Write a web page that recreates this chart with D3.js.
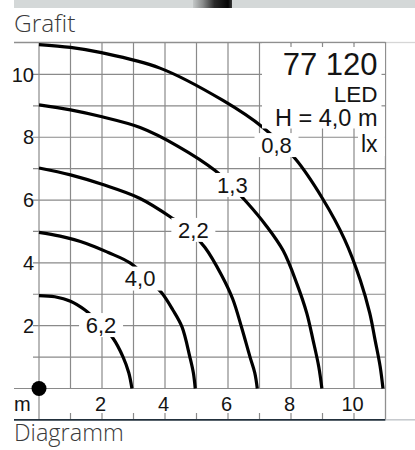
<!DOCTYPE html>
<html>
<head>
<meta charset="utf-8">
<script src="https://cdn.jsdelivr.net/npm/d3@7"></script>
<style>
  html, body { margin: 0; padding: 0; background: #fff; }
  svg { display: block; }
</style>
</head>
<body>
<svg id="chart" width="415" height="450"></svg>
<script>
// Isolux levels (lx) and their curves, in metres (x = distance, y = distance)
const levels = ["0,8", "1,3", "2,2", "4,0", "6,2"];

const curve08 = [[0, 10.95], [1, 10.86], [1.94, 10.7], [3.84, 10.2], [5.84, 9.17], [7.11, 8.31],
  [8.13, 7.32], [9.0, 6.05], [9.7, 4.75], [10.2, 3.45], [10.5, 2.4], [10.67, 1.54], [10.83, 0.7], [10.92, 0]];
const curve13 = [[0, 9.03], [1, 8.87], [2, 8.65], [3.21, 8.31], [4.4, 7.72], [5.59, 6.94], [6.1, 6.45],
  [6.63, 5.89], [7.2, 5.2], [7.75, 4.39], [8.2, 3.3], [8.5, 2.4], [8.7, 1.54], [8.88, 0.7], [8.98, 0]];
const curve22 = [[0, 7.02], [1, 6.8], [2, 6.5], [3.21, 6.05], [4.25, 5.41], [4.8, 5.0], [5.27, 4.49],
  [5.8, 3.6], [6.15, 2.85], [6.43, 1.95], [6.7, 1.0], [6.85, 0.5], [6.93, 0]];
const curve40 = [[0, 4.97], [0.67, 4.85], [1.5, 4.62], [2.2, 4.33], [2.89, 4.0], [3.4, 3.55], [3.9, 3.04],
  [4.25, 2.5], [4.54, 1.96], [4.79, 1.0], [4.9, 0.5], [4.96, 0]];
const curve62 = [[0, 2.96], [0.5, 2.92], [1.0, 2.78], [1.46, 2.5], [1.9, 2.1], [2.35, 1.6], [2.67, 1.0],
  [2.85, 0.5], [2.95, 0]];
const curves = [curve08, curve13, curve22, curve40, curve62];

// Where each level's value is written along its curve
const labelX = [7.54, 6.14, 4.9, 3.21, 1.97];
const labelY = [7.75, 6.48, 5.05, 3.5, 2.02];

// Axis tick labels
const xTicks = [2, 4, 6, 8, 10];
const yTicks = [2, 4, 6, 8, 10];
const gridSteps = [1, 2, 3, 4, 5, 6, 7, 8, 9, 10];

// Header block
const headerLines = ["77 120", "LED", "H = 4,0 m", "lx"];

const svg = d3.select("#chart");
const x = d3.scaleLinear().domain([0, 11]).range([39, 385.5]);
const y = d3.scaleLinear().domain([0, 11]).range([388.5, 43]);

const ink = "#141414";
const gridCol = "#8a8a8a";
const chartFont = "'Liberation Sans', Arial, sans-serif";

// Top strip with the shaded fixture
const defs = svg.append("defs");
const grad = defs.append("linearGradient").attr("id", "pole").attr("x1", 0).attr("x2", 1);
grad.append("stop").attr("offset", "0%").attr("stop-color", "#c4c8c8");
grad.append("stop").attr("offset", "25%").attr("stop-color", "#8a8c8c");
grad.append("stop").attr("offset", "55%").attr("stop-color", "#2a2a2a");
grad.append("stop").attr("offset", "90%").attr("stop-color", "#050505");
grad.append("stop").attr("offset", "100%").attr("stop-color", "#3a3a3a");
svg.append("rect").attr("x", 14).attr("y", 0).attr("width", 401).attr("height", 8).attr("fill", "#d4d8d8");
svg.append("rect").attr("x", 193).attr("y", 0).attr("width", 39).attr("height", 8).attr("fill", "url(#pole)");

// Section captions
svg.append("text").attr("x", 14).attr("y", 32).text("Grafit")
  .attr("font-family", "'Open Sans', sans-serif").attr("font-weight", 300)
  .attr("font-size", 24.5).attr("fill", "#3a3a3a");
svg.append("text").attr("x", 14).attr("y", 440.5).text("Diagramm")
  .attr("font-family", "'Open Sans', sans-serif").attr("font-weight", 300)
  .attr("font-size", 23.5).attr("fill", "#3a3a3a");

// Grid
const grid = svg.append("g").attr("stroke", gridCol).attr("stroke-width", 1.2);
grid.selectAll("line.v").data(gridSteps).join("line")
  .attr("x1", d => x(d)).attr("x2", d => x(d)).attr("y1", y(11)).attr("y2", y(0));
grid.selectAll("line.h").data(gridSteps).join("line")
  .attr("x1", x(0) - 6).attr("x2", x(11)).attr("y1", d => y(d)).attr("y2", d => y(d));
// x axis baseline across the label column, y axis down through the label row
grid.append("line").attr("x1", 14).attr("x2", x(11)).attr("y1", y(0)).attr("y2", y(0));
grid.append("line").attr("x1", x(0)).attr("x2", x(0)).attr("y1", y(11)).attr("y2", 419);
// small ticks at the foot of the label row
grid.selectAll("line.t").data(gridSteps).join("line")
  .attr("x1", d => x(d)).attr("x2", d => x(d)).attr("y1", 413).attr("y2", 419);

// Frame
svg.append("line").attr("x1", 14).attr("x2", x(11)).attr("y1", 42.5).attr("y2", 42.5)
  .attr("stroke", "#8f8f8f").attr("stroke-width", 1.3);
svg.append("line").attr("x1", x(11)).attr("x2", 415).attr("y1", 42.5).attr("y2", 42.5)
  .attr("stroke", "#d6d6d6").attr("stroke-width", 1.3);
svg.append("line").attr("x1", x(11)).attr("x2", x(11)).attr("y1", 42).attr("y2", 420)
  .attr("stroke", "#8f8f8f").attr("stroke-width", 1.3);
svg.append("line").attr("x1", 14).attr("x2", x(11)).attr("y1", 419.8).attr("y2", 419.8)
  .attr("stroke", "#22303c").attr("stroke-width", 1.8);
svg.append("line").attr("x1", x(11)).attr("x2", 415).attr("y1", 419.8).attr("y2", 419.8)
  .attr("stroke", "#c4c8cc").attr("stroke-width", 1.5);

// Curves
const line = d3.line().x(d => x(d[0])).y(d => y(d[1])).curve(d3.curveCatmullRom.alpha(0.5));
svg.append("g").selectAll("path").data(curves).join("path")
  .attr("d", line).attr("fill", "none").attr("stroke", "#000")
  .attr("stroke-width", 3.2).attr("stroke-linecap", "butt");

// Header block with a white ground
svg.append("rect").attr("x", 262).attr("y", 43.5).attr("width", x(11) - 262.6).attr("height", 85).attr("fill", "#fff");
svg.append("rect").attr("x", 358).attr("y", 128).attr("width", x(11) - 358.6).attr("height", 28).attr("fill", "#fff");
const edgeTicks = svg.append("g").attr("stroke", gridCol).attr("stroke-width", 1.2);
edgeTicks.selectAll("line.a").data([8, 9, 10]).join("line")
  .attr("x1", d => x(d)).attr("x2", d => x(d)).attr("y1", 43).attr("y2", 47);
edgeTicks.selectAll("line.b").data([9, 10]).join("line")
  .attr("x1", x(11) - 4).attr("x2", x(11)).attr("y1", d => y(d)).attr("y2", d => y(d));

const head = svg.append("g").attr("font-family", chartFont)
  .attr("fill", ink).attr("text-anchor", "end");
head.append("text").attr("x", 377.5).attr("y", 75).attr("font-size", 31).text(headerLines[0]);
head.append("text").attr("x", 377.5).attr("y", 101.5).attr("font-size", 22.5).text(headerLines[1]);
head.append("text").attr("x", 377.5).attr("y", 125.5).attr("font-size", 23.5).text(headerLines[2]);
head.append("text").attr("x", 377.5).attr("y", 152).attr("font-size", 23).text(headerLines[3]);

// Level labels sitting on their curves
const labs = svg.append("g").selectAll("g").data(levels).join("g")
  .attr("transform", (d, i) => `translate(${x(labelX[i])},${y(labelY[i])})`);
labs.append("rect").attr("x", -22).attr("y", -12).attr("width", 44).attr("height", 24).attr("fill", "#fff");
labs.append("text").text(d => d).attr("text-anchor", "middle").attr("dy", "0.36em")
  .attr("font-family", chartFont).attr("font-size", 22).attr("fill", ink);

// Axis labels
svg.append("g").selectAll("text").data(yTicks).join("text")
  .attr("x", 34).attr("y", d => y(d)).attr("dy", "0.36em").attr("text-anchor", "end")
  .attr("font-family", chartFont).attr("font-size", 20).attr("fill", ink).text(d => d);
svg.append("g").selectAll("text").data(xTicks).join("text")
  .attr("x", d => x(d) - 1.5).attr("y", 411).attr("text-anchor", "middle")
  .attr("font-family", chartFont).attr("font-size", 20).attr("fill", ink).text(d => d);
svg.append("text").attr("x", 14).attr("y", 411).attr("font-family", chartFont)
  .attr("font-size", 20).attr("fill", ink).text("m");

// Luminaire position
svg.append("circle").attr("cx", x(0)).attr("cy", y(0)).attr("r", 7.5).attr("fill", "#000");
</script>
</body>
</html>
